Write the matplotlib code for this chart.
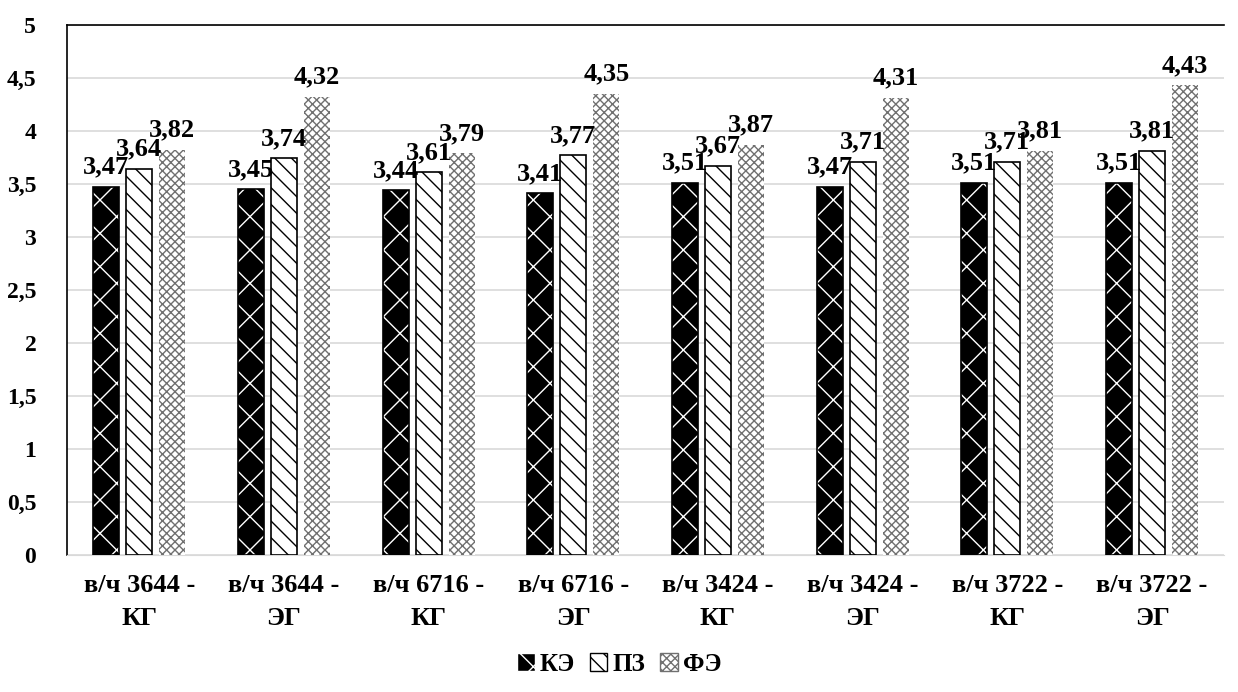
import matplotlib
matplotlib.use('Agg')
import matplotlib.pyplot as plt
from matplotlib.patches import Patch
import numpy as np

plt.rcParams['font.family'] = ['Liberation Serif', 'DejaVu Serif']
plt.rcParams['font.weight'] = 'bold'
plt.rcParams['hatch.linewidth'] = 1.0

categories = ['в/ч 3644 -\nКГ', 'в/ч 3644 -\nЭГ', 'в/ч 6716 -\nКГ', 'в/ч 6716 -\nЭГ',
              'в/ч 3424 -\nКГ', 'в/ч 3424 -\nЭГ', 'в/ч 3722 -\nКГ', 'в/ч 3722 -\nЭГ']
series_names = ['КЭ', 'ПЗ', 'ФЭ']
ke = [3.47, 3.45, 3.44, 3.41, 3.51, 3.47, 3.51, 3.51]
pz = [3.64, 3.74, 3.61, 3.77, 3.67, 3.71, 3.71, 3.81]
fe = [3.82, 4.32, 3.79, 4.35, 3.87, 4.31, 3.81, 4.43]

fig = plt.figure(figsize=(12.38, 6.92), dpi=100)
ax = fig.add_axes([0.054, 0.198, 0.935, 0.766])

x = np.arange(len(categories))
w = 0.18
step = 0.228

# КЭ: black with white diamonds
ax.bar(x - step, ke, w, color='black', edgecolor='white', hatch='x', linewidth=0, zorder=2)
ax.bar(x - step, ke, w, color='none', edgecolor='black', linewidth=1.2, zorder=3)
# ПЗ: white with wavy black lines
ax.bar(x, pz, w, color='white', edgecolor='black', hatch='\\\\', linewidth=1.2, zorder=3)
# ФЭ: gray mesh
ax.bar(x + step, fe, w, color='white', edgecolor='#707070', hatch='xxxx', linewidth=0, zorder=3)

def fmt(v):
    return ('%.2f' % v).replace('.', ',')

for xs, vals in [(x - step, ke), (x, pz), (x + step, fe)]:
    for xi, v in zip(xs, vals):
        ax.annotate(fmt(v), (xi, v), xytext=(0, 6), textcoords='offset points',
                    ha='center', va='bottom', fontsize=19, fontweight='bold')

ax.set_xlim(-0.5, len(categories) - 0.5)
ax.set_ylim(0, 5)
ticks = np.arange(0, 5.01, 0.5)
ax.set_yticks(ticks)
ax.set_yticklabels([('%g' % t).replace('.', ',') for t in ticks], fontsize=17)
ax.set_xticks(x)
ax.set_xticklabels(categories, fontsize=19, linespacing=1.55)
ax.tick_params(axis='x', length=0, pad=14)
ax.tick_params(axis='y', length=0, pad=22)
ax.yaxis.grid(True, color='#d9d9d9', linewidth=1.2, zorder=0)
ax.set_axisbelow(True)
ax.spines['right'].set_visible(False)
ax.spines['bottom'].set_color('#d9d9d9')
ax.spines['left'].set_linewidth(1.2)
ax.spines['top'].set_linewidth(1.2)

handles = [Patch(facecolor='black', edgecolor='white', hatch='x'),
           Patch(facecolor='white', edgecolor='black', hatch='\\\\'),
           Patch(facecolor='white', edgecolor='#707070', hatch='xxxx')]
fig.legend(handles, series_names, loc='center', bbox_to_anchor=(0.5, 0.04), ncol=3,
           frameon=False, fontsize=18, handlelength=0.7, handleheight=0.7,
           handletextpad=0.2, columnspacing=0.6)

fig.savefig('out.png', dpi=100)
